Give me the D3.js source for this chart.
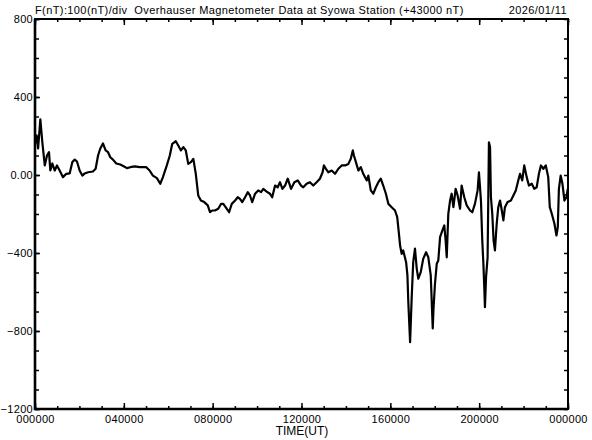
<!DOCTYPE html>
<html lang="en">
  <head>
    <meta charset="utf-8" />
    <title>Overhauser Magnetometer Data at Syowa Station</title>
    <script src="https://cdn.jsdelivr.net/npm/d3@7"></script>
    <style>
      body { margin: 0; background: #fff; }
    </style>
  </head>
  <body>
    <svg id="chart" width="592" height="440"></svg>
    <script>
      // time in hours (UT), F minus 43000 nT
      const hours = [
        0.00, 0.07, 0.14, 0.24, 0.33, 0.44, 0.54, 0.63, 0.69, 0.78, 0.89, 0.99, 1.11, 1.26, 1.41, 1.56,
        1.68, 1.79, 1.89, 2.01, 2.13, 2.24, 2.39, 2.61, 2.73, 2.84, 2.94, 3.06, 3.18, 3.29, 3.39, 3.51,
        3.66, 3.84, 3.99, 4.14, 4.29, 4.49, 4.71, 5.01, 5.16, 5.31, 5.49, 5.64, 5.76, 5.91, 6.07, 6.18,
        6.34, 6.45, 6.57, 6.68, 6.79, 6.90, 7.02, 7.13, 7.24, 7.35, 7.47, 7.62, 7.78, 7.88, 7.98, 8.10,
        8.25, 8.38, 8.48, 8.63, 8.74, 8.86, 9.01, 9.13, 9.23, 9.33, 9.46, 9.58, 9.68, 9.78, 9.91, 10.05,
        10.18, 10.28, 10.43, 10.58, 10.68, 10.81, 10.93, 11.03, 11.14, 11.26, 11.38, 11.53, 11.68, 11.83, 11.98, 12.08,
        12.23, 12.38, 12.53, 12.68, 12.83, 12.95, 13.01, 13.10, 13.21, 13.36, 13.51, 13.66, 13.81, 13.96, 14.11, 14.22,
        14.31, 14.36, 14.45, 14.56, 14.67, 14.78, 14.94, 15.01, 15.12, 15.23, 15.35, 15.46, 15.57, 15.68, 15.80, 15.91,
        16.06, 16.21, 16.31, 16.38, 16.44, 16.51, 16.58, 16.71, 16.77, 16.81, 16.85, 16.89, 16.96, 17.03, 17.11, 17.19,
        17.26, 17.37, 17.48, 17.61, 17.71, 17.82, 17.91, 17.94, 18.01, 18.09, 18.16, 18.24, 18.34, 18.43, 18.49, 18.54,
        18.61, 18.69, 18.76, 18.84, 18.94, 19.03, 19.14, 19.21, 19.33, 19.44, 19.59, 19.69, 19.81, 19.93, 19.99, 20.08,
        20.14, 20.19, 20.23, 20.26, 20.31, 20.38, 20.44, 20.49, 20.53, 20.59, 20.65, 20.71, 20.79, 20.86, 20.94, 21.02,
        21.09, 21.16, 21.28, 21.43, 21.54, 21.65, 21.76, 21.84, 21.94, 22.03, 22.14, 22.24, 22.37, 22.48, 22.59, 22.69,
        22.78, 22.89, 23.00, 23.11, 23.18, 23.27, 23.39, 23.48, 23.54, 23.59, 23.67, 23.75, 23.84, 23.93, 23.99
      ];
      const fValues = [
        160, 203, 136, 285, 168, 49, 100, 117, 23, 59, 23, 49, 23, -11, 6, 8,
        66, 79, 69, 23, -3, 8, 14, 18, 32, 100, 136, 162, 126, 117, 91, 79,
        59, 54, 45, 35, 40, 44, 40, 40, 23, -3, -16, -45, -11, 40, 100, 160,
        173, 151, 126, 143, 126, 57, 66, 83, 6, -105, -131, -139, -156, -191, -182, -182,
        -173, -148, -148, -173, -191, -148, -131, -114, -122, -139, -114, -88, -105, -139, -96, -79,
        -88, -71, -85, -96, -114, -54, -63, -37, -71, -54, -19, -71, -37, -28, -54, -63,
        -45, -37, -54, -37, -19, 14, 49, 32, 14, 23, 6, 32, 49, 49, 57, 83,
        126, 100, 66, 23, 40, 6, -28, -3, -79, -96, -63, -37, -19, -54, -96, -148,
        -165, -182, -216, -293, -362, -404, -387, -447, -515, -652, -755, -857, -635, -447, -378, -481,
        -532, -498, -430, -396, -422, -515, -787, -695, -558, -455, -438, -319, -285, -259, -336, -422,
        -199, -131, -96, -165, -71, -105, -173, -54, -114, -156, -182, -191, -148, -79, 14, -131,
        -336, -455, -575, -678, -524, -422, 168, 143, -114, -199, -336, -387, -250, -165, -131, -182,
        -233, -165, -139, -131, -105, -79, -28, 6, -28, 49, -11, -54, -45, -71, -63, 6,
        49, 32, 49, -11, -165, -199, -250, -310, -268, -71, -3, -45, -131, -114, -71
      ];
      const yMajor = [-1200, -800, -400, 0, 400, 800];
      const xMajor = [0, 4, 8, 12, 16, 20, 24];
      const xLabels = ["000000", "040000", "080000", "120000", "160000", "200000", "000000"];

      const data = hours.map((h, i) => ({ h: h, v: fValues[i] }));

      const svg = d3.select("#chart")
        .attr("font-family", "Liberation Sans, Arial, sans-serif");

      const plotLeft = 35, plotRight = 568, plotTop = 19, plotBottom = 409;

      const x = d3.scaleLinear().domain([0, 24]).range([plotLeft, plotRight]);
      const y = d3.scaleLinear().domain([-1200, 800]).range([plotBottom, plotTop]);

      // data line
      const line = d3.line().x(d => x(d.h)).y(d => y(d.v));
      svg.append("path")
        .datum(data)
        .attr("fill", "none")
        .attr("stroke", "#000")
        .attr("stroke-width", 2.2)
        .attr("stroke-linejoin", "round")
        .attr("d", line);

      // frame (left and bottom a bit heavier)
      svg.append("rect")
        .attr("x", plotLeft).attr("y", plotTop)
        .attr("width", plotRight - plotLeft).attr("height", plotBottom - plotTop)
        .attr("fill", "none").attr("stroke", "#000").attr("stroke-width", 2);
      svg.append("path")
        .attr("d", `M${plotLeft},${plotTop}V${plotBottom}H${plotRight}`)
        .attr("fill", "none").attr("stroke", "#000").attr("stroke-width", 2.6);

      // inward ticks, minor + major
      const yMinor = d3.range(-1200, 801, 100);
      const xMinor = d3.range(0, 25, 1);

      function styleAxis(g) {
        g.select(".domain").remove();
        g.selectAll("line").attr("stroke", "#000").attr("stroke-width", 1.5);
        g.selectAll("text").attr("fill", "#000").attr("font-size", "11px")
          .attr("letter-spacing", "0.3px");
      }

      svg.append("g").attr("transform", `translate(${plotLeft},0)`)
        .call(d3.axisLeft(y).tickValues(yMinor).tickSize(-4).tickFormat(""))
        .call(styleAxis);
      svg.append("g").attr("transform", `translate(${plotLeft},0)`)
        .call(d3.axisLeft(y).tickValues(yMajor).tickSize(-5).tickPadding(2)
          .tickFormat(d => d === 0 ? "0.00" : d3.format("d")(d)))
        .call(styleAxis);
      svg.append("g").attr("transform", `translate(${plotRight},0)`)
        .call(d3.axisRight(y).tickValues(yMinor).tickSize(-4).tickFormat(""))
        .call(styleAxis);

      svg.append("g").attr("transform", `translate(0,${plotBottom})`)
        .call(d3.axisBottom(x).tickValues(xMinor).tickSize(-3).tickFormat(""))
        .call(styleAxis);
      svg.append("g").attr("transform", `translate(0,${plotBottom})`)
        .call(d3.axisBottom(x).tickValues(xMajor).tickSize(-6).tickPadding(6)
          .tickFormat((d, i) => xLabels[i]))
        .call(styleAxis);
      svg.append("g").attr("transform", `translate(0,${plotTop})`)
        .call(d3.axisTop(x).tickValues(xMinor).tickSize(-3).tickFormat(""))
        .call(styleAxis);
      svg.append("g").attr("transform", `translate(0,${plotTop})`)
        .call(d3.axisTop(x).tickValues(xMajor).tickSize(-6).tickFormat(""))
        .call(styleAxis);

      // titles
      svg.append("text")
        .attr("x", plotLeft).attr("y", 14)
        .attr("font-size", "11px")
        .attr("letter-spacing", "0.4px")
        .style("white-space", "pre")
        .text("F(nT):100(nT)/div  Overhauser Magnetometer Data at Syowa Station (+43000 nT)");
      svg.append("text")
        .attr("x", 567).attr("y", 14)
        .attr("text-anchor", "end")
        .attr("font-size", "11px")
        .attr("letter-spacing", "0.4px")
        .text("2026/01/11");
      svg.append("text")
        .attr("x", 302).attr("y", 435)
        .attr("text-anchor", "middle")
        .attr("font-size", "12px")
        .text("TIME(UT)");
    </script>
  </body>
</html>
